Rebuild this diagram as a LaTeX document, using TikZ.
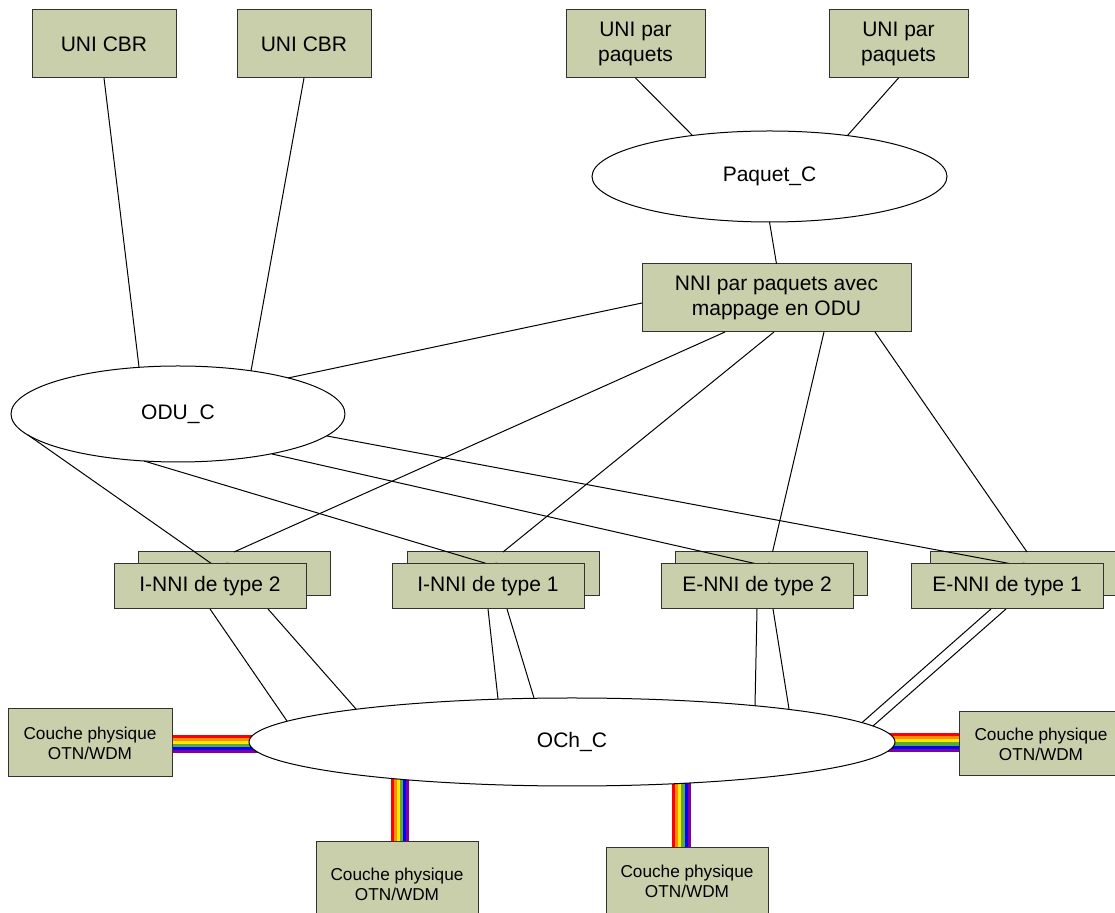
\documentclass[tikz,border=0pt]{standalone}
\usepackage{fontspec}
\setmainfont{Liberation Sans}
\usetikzlibrary{shapes.geometric,calc}
\pgfdeclarelayer{bg}
\pgfdeclarelayer{fore}
\pgfsetlayers{bg,main,fore}
\definecolor{boxfill}{RGB}{200,207,170}
\definecolor{boxline}{RGB}{50,50,50}
\definecolor{rbA}{RGB}{255,0,0}
\definecolor{rbB}{RGB}{255,140,0}
\definecolor{rbC}{RGB}{255,235,0}
\definecolor{rbD}{RGB}{90,170,60}
\definecolor{rbE}{RGB}{0,0,255}
\definecolor{rbF}{RGB}{128,0,160}
\begin{document}
\begin{tikzpicture}[x=0.5pt,y=-0.5pt,
  box/.style={draw=boxline, fill=boxfill, line width=0.5pt, inner sep=0pt, outer sep=0pt,
    align=center, font=\fontsize{10.5}{12.5}\selectfont},
  phybox/.style={box, font=\fontsize{8.6}{10}\selectfont},
  nnibox/.style={box, minimum width=96pt, minimum height=22.5pt},
  backbox/.style={box, minimum width=96pt, minimum height=22pt, text depth=3.4pt},
  oval/.style={ellipse, draw=black, fill=white, line width=0.5pt, inner sep=0pt, outer sep=0pt,
    font=\fontsize{10.5}{12.5}\selectfont},
  conn/.style={draw=black, line width=0.5pt}]
\useasboundingbox (0,0) rectangle (1115,913);

% top boxes
\node[box, minimum width=72pt, minimum height=34pt] (cbr1) at (104,44) {UNI CBR};
\node[box, minimum width=67pt, minimum height=34pt] (cbr2) at (304,44) {UNI CBR};
\node[box, minimum width=69.5pt, minimum height=34pt] (paq1) at (635.5,44) {UNI par\\paquets};
\node[box, minimum width=69.5pt, minimum height=34pt] (paq2) at (898.5,44) {UNI par\\paquets};

% ellipses
\node[oval, minimum width=177.5pt, minimum height=45.5pt] (paquetc) at (769.5,176.5) {Paquet\_C};
\node[oval, minimum width=167pt, minimum height=48pt] (odu) at (178,414) {ODU\_C};
\node[oval, minimum width=323pt, minimum height=44pt] (och) at (572,742) {OCh\_C};

\node[box, minimum width=134.5pt, minimum height=34pt] (nni) at (776.5,298) {NNI par paquets avec\\mappage en ODU};

% physical layer boxes
\node[phybox, minimum width=82pt, minimum height=34pt] (phyL) at (90,743) {Couche physique\\OTN/WDM};
\node[phybox, minimum width=82pt, minimum height=32pt] (phyR) at (1041,744) {Couche physique\\OTN/WDM};
\node[phybox, minimum width=81pt, minimum height=42pt] (phyB1) at (397,884) {Couche physique\\OTN/WDM};
\node[phybox, minimum width=81pt, minimum height=33pt] (phyB2) at (687,881) {Couche physique\\OTN/WDM};

% back NNI boxes
\node[backbox] (inni2b) at (234,574) {I-NNI de type 2};
\node[backbox] (inni1b) at (503,574) {I-NNI de type 1};
\node[backbox] (enni2b) at (771.5,574) {E-NNI de type 2};
\node[backbox] (enni1b) at (1026,574) {E-NNI de type 1};

% front NNI boxes
\begin{pgfonlayer}{fore}
\node[nnibox] (inni2f) at (210,586.5) {I-NNI de type 2};
\node[nnibox] (inni1f) at (488,586.5) {I-NNI de type 1};
\node[nnibox] (enni2f) at (757,586.5) {E-NNI de type 2};
\node[nnibox] (enni1f) at (1007,586.5) {E-NNI de type 1};
\end{pgfonlayer}

% background and rainbow links
\begin{pgfonlayer}{bg}
\fill[white] (0,0) rectangle (1115,913);
\foreach \c [count=\i from 0] in {rbA,rbB,rbC,rbD,rbE,rbF} {
  \fill[\c] ($(phyL.east)+(-2,-8+3*\i)$) rectangle ($(och.west |- phyL.east)+(12,-8+3*\i+3.2)$);
  \fill[\c] ($(och.east |- phyR.west)+(-20,-11+3.15*\i)$) rectangle ($(phyR.west)+(2,-11+3.15*\i+3.35)$);
  \fill[\c] ($(phyB1.north)+(-6+3*\i,2)$) rectangle ($(phyB1.north |- och.south)+(-6+3*\i+3.2,-16)$);
  \fill[\c] ($(phyB2.north)+(-15+3.15*\i,2)$) rectangle ($(phyB2.north |- och.south)+(-15+3.15*\i+3.35,-12)$);
}
\end{pgfonlayer}

% connectors
\draw[conn] (cbr1.south) -- ($(odu.center)+(-39,-47)$);
\draw[conn] (cbr2.south) -- ($(odu.center)+(73,-43)$);
\draw[conn] (paq1.south) -- ($(paquetc.center)+(-77,-41)$);
\draw[conn] (paq2.south) -- ($(paquetc.center)+(78,-41)$);
\draw[conn] (paquetc.south) -- (nni.north);
\draw[conn] ($(nni.west)+(0,5)$) -- ($(odu.center)+(110,-36)$);

\draw[conn] ($(nni.south west)+(83,0)$) -- ($(inni2b.north west)+(96,0)$);
\draw[conn] ($(nni.south west)+(132,0)$) -- ($(inni1b.north west)+(96,0)$);
\draw[conn] ($(nni.south west)+(182,0)$) -- ($(enni2b.north west)+(97,0)$);
\draw[conn] ($(nni.south west)+(233,0)$) -- ($(enni1b.north west)+(97,0)$);

\draw[conn] ($(odu.center)+(-150,21)$) -- ($(inni2f.north west)+(98,0)$);
\draw[conn] ($(odu.center)+(-34,47)$) -- ($(inni1f.north west)+(96,0)$);
\draw[conn] ($(odu.center)+(94,40)$) -- ($(enni2f.north west)+(96,0)$);
\draw[conn] ($(odu.center)+(149,22)$) -- ($(enni1f.north west)+(101,0)$);

\draw[conn] ($(inni2f.south west)+(96,0)$) -- ($(och.center)+(-285,-21)$);
\draw[conn] ($(inni2f.south west)+(154,0)$) -- ($(och.center)+(-216,-33)$);
\draw[conn] ($(inni1f.south west)+(96,0)$) -- ($(och.center)+(-74,-43)$);
\draw[conn] ($(inni1f.south west)+(115,0)$) -- ($(och.center)+(-38,-44)$);
\draw[conn] ($(enni2f.south west)+(96,0)$) -- ($(och.center)+(183,-36)$);
\draw[conn] ($(enni2f.south west)+(112,0)$) -- ($(och.center)+(217,-33)$);
\draw[conn] ($(enni1f.south west)+(80,0)$) -- ($(och.center)+(290,-19.4)$);
\draw[conn] ($(enni1f.south west)+(95,0)$) -- ($(och.center)+(301,-16)$);
\end{tikzpicture}
\end{document}
